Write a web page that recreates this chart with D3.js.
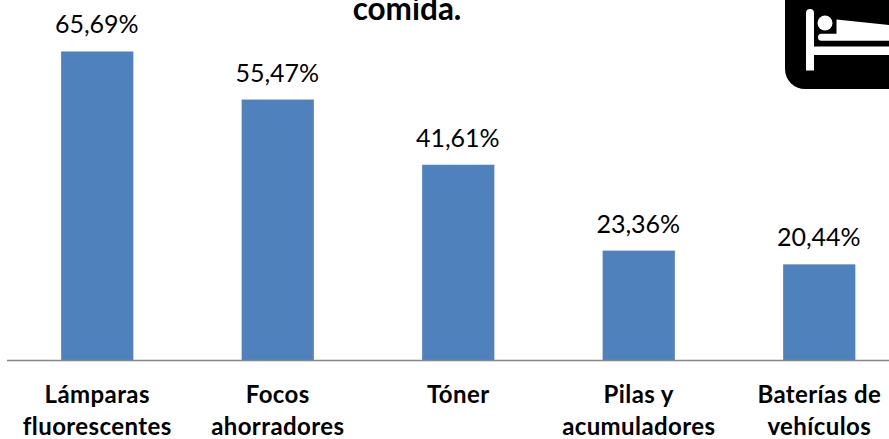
<!DOCTYPE html>
<html>
<head>
<meta charset="utf-8">
<script src="https://cdn.jsdelivr.net/npm/d3@7"></script>
<style>
  html, body { margin: 0; padding: 0; background: #fff; overflow: hidden; }
  text { font-family: Lato, "Open Sans", sans-serif; fill: #000; }
</style>
</head>
<body>
<div id="chart"></div>
<script>
// Chart values
var categories = ["Lámparas fluorescentes", "Focos ahorradores", "Tóner", "Pilas y acumuladores", "Baterías de vehículos"];
var categoryLines = [["Lámparas", "fluorescentes"], ["Focos", "ahorradores"], ["Tóner"], ["Pilas y", "acumuladores"], ["Baterías de", "vehículos"]];
var values = [65.69, 55.47, 41.61, 23.36, 20.44];
var valueLabels = ["65,69%", "55,47%", "41,61%", "23,36%", "20,44%"];
var titleLine = "comida.";

var svgWidth = 889;
var svgHeight = 439;

var svg = d3.select("#chart")
  .append("svg")
  .attr("width", svgWidth)
  .attr("height", svgHeight)
  .style("display", "block");

// Scales
var xScale = d3.scaleBand()
  .domain(categories)
  .range([7, 909.5])
  .paddingInner(0.6)
  .paddingOuter(0.3);

var yScale = d3.scaleLinear()
  .domain([0, 70])
  .range([360.5, 31.2]);

// Bars
svg.selectAll("rect.bar")
  .data(values)
  .enter()
  .append("rect")
  .attr("class", "bar")
  .attr("x", (d, i) => xScale(categories[i]))
  .attr("y", d => yScale(d))
  .attr("width", xScale.bandwidth())
  .attr("height", d => yScale(0) - yScale(d))
  .attr("fill", "#4f81bd");

// Value labels
svg.selectAll("text.value")
  .data(values)
  .enter()
  .append("text")
  .attr("class", "value")
  .attr("x", (d, i) => xScale(categories[i]) + xScale.bandwidth() / 2 - 0.5)
  .attr("y", d => yScale(d) - 18)
  .attr("text-anchor", "middle")
  .attr("font-size", 25)
  .text((d, i) => valueLabels[i]);

// Bottom axis, drawn by d3 with the labels replaced by wrapped lines
var axis = svg.append("g")
  .attr("transform", "translate(0, 360.5)")
  .call(d3.axisBottom(xScale).tickSize(0).tickPadding(0));

axis.select(".domain")
  .attr("d", "M7,0H889")
  .attr("stroke", "#868686")
  .attr("stroke-width", 1.5);

axis.selectAll(".tick text").remove();

axis.selectAll(".tick")
  .append("text")
  .attr("text-anchor", "middle")
  .attr("font-size", 24)
  .attr("font-weight", 700)
  .attr("letter-spacing", 0.4)
  .selectAll("tspan")
  .data((d, i) => categoryLines[i])
  .enter()
  .append("tspan")
  .attr("x", 0)
  .attr("y", (d, i) => 42.5 + i * 32)
  .text(d => d);

// Last line of the title, the rest is cut off by the top edge
svg.append("text")
  .attr("x", 407)
  .attr("y", 19.5)
  .attr("text-anchor", "middle")
  .attr("font-size", 31.5)
  .attr("font-weight", 700)
  .text(titleLine);

// Bed icon in the top right corner
var icon = svg.append("g");

icon.append("rect")
  .attr("x", 785)
  .attr("y", -30)
  .attr("width", 140)
  .attr("height", 119)
  .attr("rx", 20)
  .attr("fill", "#000");

icon.append("path")
  .attr("fill", "#fff")
  .attr("d", "M806,13a4,4 0 0 1 8,0V46.5H889V55H814V70.5H806Z");

icon.append("circle")
  .attr("cx", 825)
  .attr("cy", 23)
  .attr("r", 7.5)
  .attr("fill", "#fff");

icon.append("path")
  .attr("fill", "#fff")
  .attr("d", "M836.5,19.5L889,25V40.7H821.5a3.5,3.5 0 0 1 0,-7H836.5Z");
</script>
</body>
</html>
